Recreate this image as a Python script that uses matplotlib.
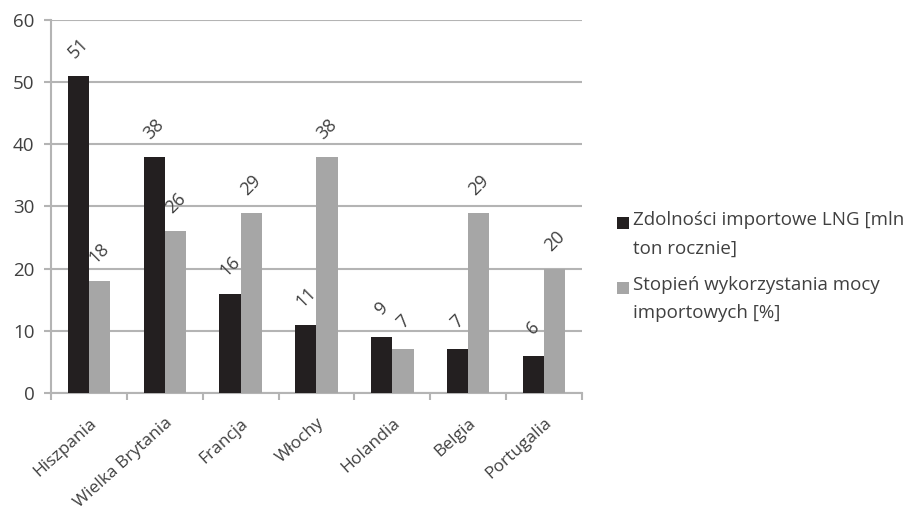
import matplotlib
matplotlib.use("Agg")
import matplotlib.pyplot as plt
from matplotlib.patches import Rectangle
import numpy as np

categories = ["Hiszpania", "Wielka Brytania", "Francja", "Włochy", "Holandia", "Belgia", "Portugalia"]
capacity = [51, 38, 16, 11, 9, 7, 6]
utilization = [18, 26, 29, 38, 7, 29, 20]
series_names = ["Zdolności importowe LNG [mln\nton rocznie]", "Stopień wykorzystania mocy\nimportowych [%]"]
series_colors = ['#231f20', '#a6a6a6']

plt.rcParams['font.family'] = ['Open Sans', 'DejaVu Sans']
txt = '#404040'
grid_c = '#b4b4b4'
W, H = 906, 515
fig = plt.figure(figsize=(W / 100, H / 100), dpi=100)
ax = fig.add_axes([0.0563, 0.2369, 0.586, 0.7243])

x = np.arange(len(categories))
w = 0.28
b1 = ax.bar(x - w/2, capacity, w, color=series_colors[0], zorder=3)
b2 = ax.bar(x + w/2, utilization, w, color=series_colors[1], zorder=3)

for bars in (b1, b2):
    for r in bars:
        h = r.get_height()
        ax.annotate(f"{h:g}", (r.get_x() + r.get_width()/2, h), xytext=(0, 20),
                    textcoords='offset points', ha='center', va='center', rotation=45,
                    fontsize=13, color=txt)

ax.set_xlim(-0.5, len(categories) - 0.5)
ax.set_ylim(0, 60)
ax.set_yticks(range(0, 61, 10))
ax.yaxis.grid(True, color=grid_c, linewidth=1.5, zorder=0)
ax.set_xticks(x)
ax.set_xticklabels(categories, rotation=42, ha='right', rotation_mode='anchor', fontsize=12.5, color=txt)
ax.set_xticks(np.arange(-0.5, len(categories), 1), minor=True)
ax.tick_params(axis='x', which='major', length=0, pad=16)
ax.tick_params(axis='x', which='minor', length=5, color=grid_c, width=1.5)
ax.tick_params(axis='y', length=5, color=grid_c, width=1.5, labelsize=13.5, labelcolor=txt, pad=7)
for s in ['top', 'right']:
    ax.spines[s].set_visible(False)
for s in ['left', 'bottom']:
    ax.spines[s].set_color(grid_c)
    ax.spines[s].set_linewidth(1.5)

# legend (square aligned with first text line, as in the reference)
leg_first_line_y = [223, 288]
for name, col, y in zip(series_names, series_colors, leg_first_line_y):
    fig.patches.append(Rectangle((617 / W, 1 - (y + 6) / H), 12 / W, 12 / H,
                                 transform=fig.transFigure, facecolor=col, edgecolor='none'))
    fig.text(633 / W, 1 - (y - 12) / H, name, ha='left', va='top', fontsize=13.5, color=txt,
             linespacing=1.75, transform=fig.transFigure)

fig.savefig('out.png', dpi=100)
